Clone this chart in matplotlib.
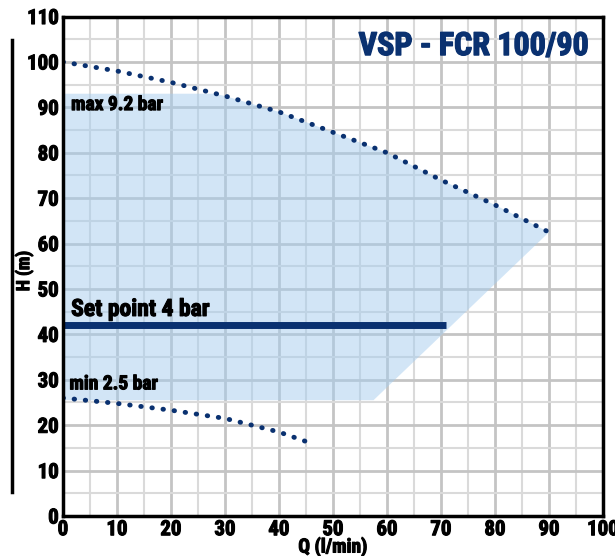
import matplotlib
matplotlib.use("Agg")
import matplotlib.pyplot as plt
from matplotlib.lines import Line2D
from matplotlib import font_manager
import matplotlib.patheffects as pe
import numpy as np

names = sorted({f.name for f in font_manager.fontManager.ttflist})
cands = ['Liberation Sans Narrow', 'DejaVu Sans Condensed', 'Roboto Condensed', 'Open Sans Condensed']
fam = [c for c in cands if c in names] + ['DejaVu Sans']
plt.rcParams['font.family'] = fam
W = 'bold'
plt.rcParams['font.weight'] = W

# Data
max_q = [0, 10, 20, 30, 40, 50, 60, 70, 80, 90]
max_h = [100, 98, 95.5, 92.5, 89, 84.5, 80, 74, 68.5, 62.5]
min_q = [0, 10, 20, 30, 40, 46]
min_h = [26, 24.8, 23.3, 21.5, 18.5, 16]
setpoint_q = [0, 71]
setpoint_h = [42, 42]
area_q = [0, 28, 30, 40, 50, 60, 70, 80, 90, 57.5, 0]
area_h = [93, 93, 92.5, 89, 84.5, 80, 74, 68.5, 62.5, 25.5, 25.5]
x_ticks = list(range(0, 101, 10))
y_ticks = list(range(0, 111, 10))

navy = '#0a3170'
def heavy(c='black', w=0.8):
    return [pe.withStroke(linewidth=w, foreground=c)]

fig = plt.figure(figsize=(6.15, 5.56), dpi=100)
ax = fig.add_axes([0.1024, 0.0719, 0.8781, 0.8984])
ax.set_xlim(0, 100)
ax.set_ylim(0, 110)

ax.set_xticks(x_ticks)
ax.set_yticks(y_ticks)
ax.set_xticks(np.arange(5, 100, 10), minor=True)
ax.set_yticks(np.arange(5, 110, 10), minor=True)
ax.grid(which='major', color='#c4c4c4', linewidth=2.0, zorder=0)
ax.grid(which='minor', color='#dadada', linewidth=1.5, zorder=0)
ax.set_axisbelow(True)
ax.tick_params(which='both', length=0)
ax.tick_params(axis='both', labelsize=15, pad=3)
for lab in ax.get_xticklabels() + ax.get_yticklabels():
    lab.set_fontweight(W)
    lab.set_path_effects(heavy())

ax.fill(area_q, area_h, color='#a6cdee', alpha=0.5, lw=0, zorder=2)
ax.plot(max_q, max_h, linestyle=(0, (0.1, 2.2)), dash_capstyle='round', color=navy, lw=3.5, zorder=3)
ax.plot(min_q, min_h, linestyle=(0, (0.1, 2.2)), dash_capstyle='round', color=navy, lw=3.5, zorder=3)
ax.plot(setpoint_q, setpoint_h, color=navy, lw=5, solid_capstyle='butt', zorder=3)

ax.text(1.5, 90.5, 'max 9.2 bar', fontsize=14, fontweight=W, va='center', ha='left', zorder=4,
        path_effects=heavy())
ax.text(1.5, 45.5, 'Set point 4 bar', fontsize=17, fontweight=W, va='center', ha='left', zorder=4,
        path_effects=heavy())
ax.text(1.2, 29, 'min 2.5 bar', fontsize=14, fontweight=W, va='center', ha='left', zorder=4,
        path_effects=heavy())
ax.text(97.5, 103.5, 'VSP - FCR 100/90', fontsize=23, fontweight=W, color=navy, va='center', ha='right',
        zorder=4, path_effects=heavy(navy, 1.0))

ax.set_xlabel('Q (l/min)', fontsize=14, fontweight=W, labelpad=-1, path_effects=heavy())
ax.set_ylabel('H (m)', fontsize=13, fontweight=W, path_effects=heavy())
ax.yaxis.set_label_coords(-0.055, 0.49)

for s in ax.spines.values():
    s.set_linewidth(2.5)
    s.set_color('black')
    s.set_zorder(5)

fig.add_artist(Line2D([12/615, 12/615], [1-40/556, 1-492/556], color='black', lw=2.5))

fig.savefig('out.png', dpi=100)
